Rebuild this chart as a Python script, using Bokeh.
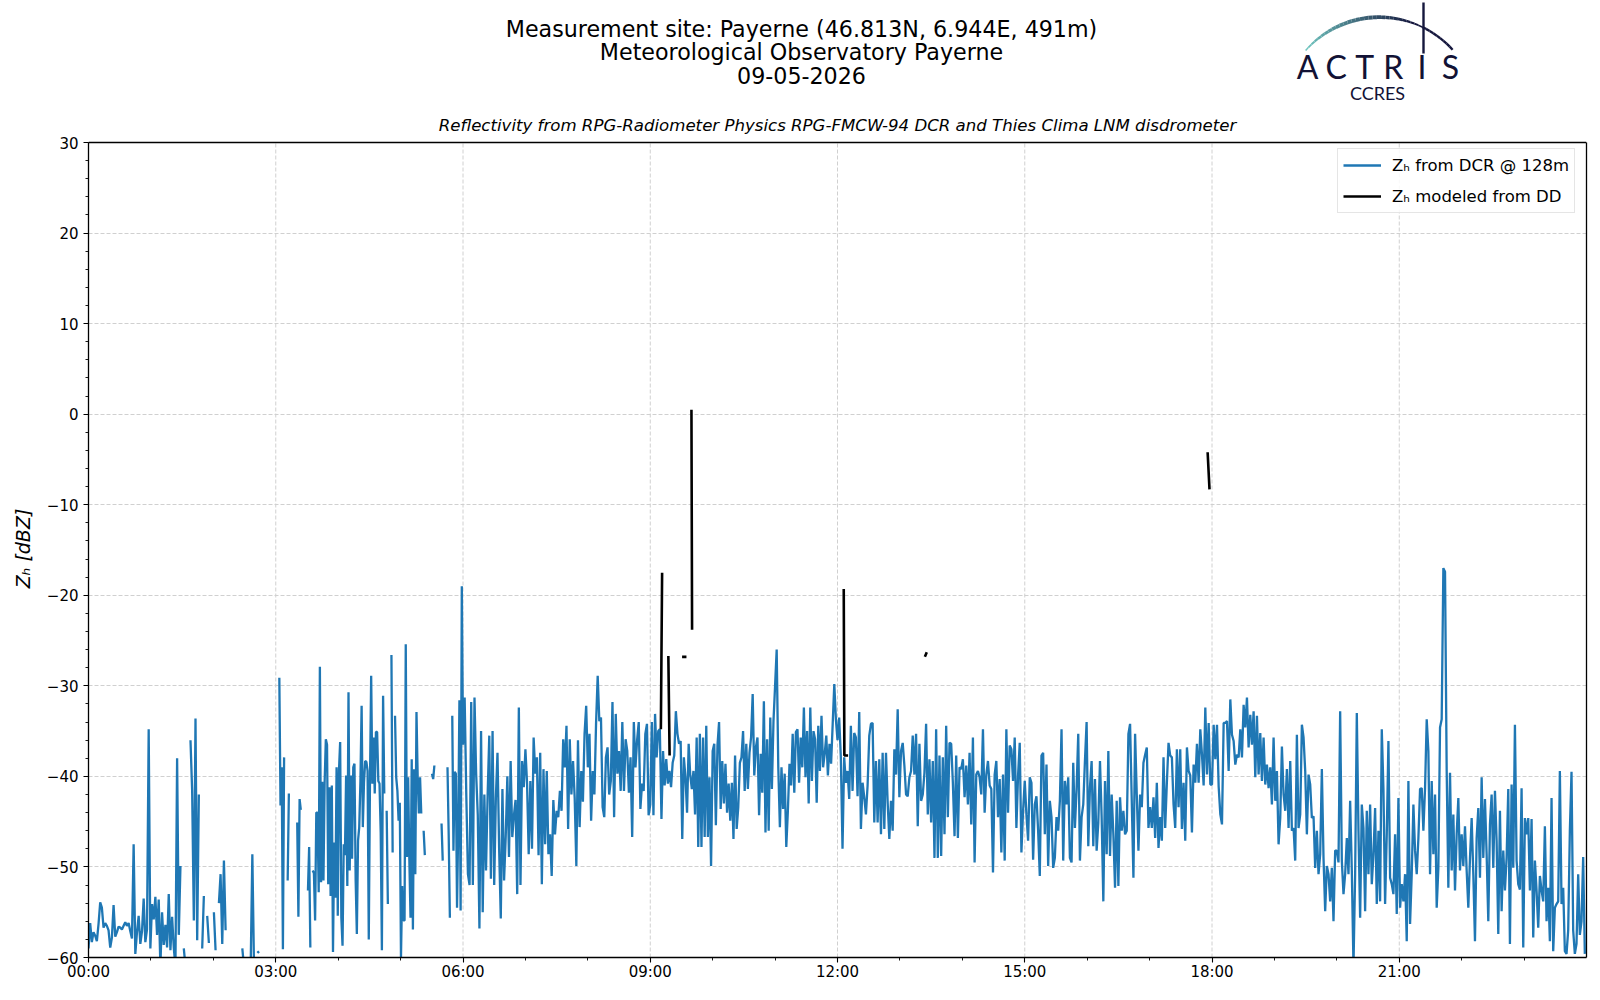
import numpy as np
from bokeh.plotting import figure
from bokeh.models import Range1d, FixedTicker, Label, Legend, LegendItem, LinearAxis, Span
from bokeh.embed import file_html
from bokeh.resources import INLINE

nan = float("nan")

# ---------------- data ----------------
# Z_H from DCR @ 128m, dBZ, per block of hours (samples evenly spread over each block)
zh_00_03 = [
    -59, -56.2, -58.3, -57.2, -57.6, -58.2, -56.3, -53.9, -54.5, -56.7,
    -56.2, -56.5, -57, -58.9, -57.8, -54.2, -57.7, -57.2, -56.6, -56.7,
    -56.9, -56.5, -56.1, -56.5, -56.2, -57.1, -57.9, -47.5, -59.6, -57.2,
    -55.4, -58.5, -57.1, -53.5, -58.3, -56.9, -34.8, -59, -54.1, -55.8,
    -53.3, -57.5, -53.6, -61, -55, -58.6, -56.4, -58.9, -53, -59.2,
    -55.5, -58.9, -61, -38, -57.5, -49.9, nan, -59, -61, nan,
    nan, -36, -41.6, -55.9, -33.6, -58.1, -42, nan, -59, -53.2,
    nan, -55.4, -58.4, nan, nan, -55, -59.2, nan, -54, -50.8,
    -58.5, -49.3, -57, nan, nan, nan, nan, nan, nan, nan,
    nan, nan, -59, -61, nan, nan, nan, -61, -48.6, -61,
    nan, -59.3, -59.5, nan, nan, nan, nan, nan, nan, nan,
    nan, nan,
]
zh_03_06 = [
    nan, nan, nan, -29.1, -43.2, -39, -59.1, -37.9, nan, nan,
    -51.5, -41.9, nan, nan, nan, nan, nan, nan, -45.1, -55.5,
    -42.5, -43.7, nan, nan, nan, nan, nan, -52.6, -47.8, -58.9,
    nan, -50.4, -50.7, -55.9, -44, -44, -52.8, -27.9, -51.7, -40.6,
    -51.5, -40.6, -35.9, -36.5, -51.9, -41.2, -53.2, -41, -59.4, -47.3,
    -53.4, -39, -55.4, -39.4, -36.2, -55.6, -58.7, -47.5, -48.7, -39.9,
    -52.1, -30.7, -50.4, -39.9, -49.1, -39, -38.6, -51.5, -57.4, -47.1,
    -45.6, -40.5, -32.2, -45.6, -40.6, -38.3, -38.4, -39.4, -58, -40.6,
    -28.9, -40.8, -35.7, -41.9, -35.1, -35.1, -40.5, -40.8, -46.2, -59.2,
    -31.1, -41.9, nan, -43.8, -54.1, nan, nan, -26.6, -48.4, nan,
    -33.3, -40.1, -41.6, -44.9, -42.9, -60, -52.1, -55.9, -55.9, -25.4,
    -48.9, -40.1, -49.1, -55.6, -38.1, -56.9, -39.2, -50.8, -32.9, -40.1,
    -44.1, -40.1, -44.1, nan, -46, -48.7, nan, nan, nan, nan,
    nan, -39.7, -40.3, -38.8, nan, nan, nan, nan, nan, -45.2,
    -49.3, nan, nan, nan, -39, -46.4, -55.6, nan, -33.3, -48.2,
    -39.5, -39.7, -54.5, -45.6, -31.6, -54.8, -19,
]
zh_06_09 = [
    -36.5, -31.3, -42, -50.8, -52, -31.8, -52, -31.3, -39.7, -44.3,
    -56.8, -35, -55, -42, -50.4, -42, -35.5, -51.3, -35, -52,
    -42.4, -37.4, -48, -55.7, -41.4, -51.5, -46.7, -40, -48.9, -38.3,
    -46.7, -44.3, -42.6, -53, -32.4, -52, -38.3, -41.2, -37, -40.8,
    -48.6, -40.5, -48, -35.7, -39.7, -37.9, -48.7, -37.4, -51.9, -39.2,
    -47.5, -39.4, -48.6, -46.4, -51, -42.6, -46.4, -43.8, -44.5, -41.6,
    -43.8, -35.9, -39, -34.4, -45.8, -35.9, -42, -38.3, -42.4, -49.9,
    -36, -45.6, -39.4, -42.8, -35.3, -32.2, -39, -35.3, -44.9, -39.4,
    -42, -34.2, -28.9, -33.9, -33.5, -43.4, -44.5, -37.9, -36.8, -42,
    -40.5, -31.8, -44.5, -33.1, -39.7, -37.2, -41.6, -34, -41.6, -35.9,
    -37.2, -41.8, -37.9, -46.7, -34, -39, -36, -34, -43.6, -40.8,
    -41.6, -35.3, -34.2, -44.3,
]
zh_09_12 = [
    -43.1, -34, -44.3, -33.1, -37.9, -35, -34.8, -44.7, -37.2, -41,
    -38.1, -40.8, -39.4, -41.2, -38.5, -37.7, -32.8, -35.3, -36.4, -36.1,
    -46.9, -37.9, -40.1, -44, -36.4, -39.9, -41.4, -39.4, -44.2, -35.7,
    -47.8, -35.3, -47.8, -35.7, -46.7, -34.4, -46.7, -40.1, -49.9, -37.2,
    -36.4, -45.4, -36.6, -34, -43.6, -38.3, -43, -38.6, -44, -40.8,
    -44.9, -40.7, -46.9, -37.7, -45.8, -43.4, -38.5, -37.9, -35, -41.6,
    -36.4, -41.4, -37.4, -35.7, -30.9, -39.9, -36.8, -35.7, -44.3, -37.5,
    -41.8, -31.7, -46.2, -35.9, -46, -33.5, -41.4, -33.9, -30, -26,
    -39, -45.6, -39, -43.6, -39.7, -47.8, -43.8, -38.6, -41, -35.3,
    -41.8, -35.1, -34.8, -40.7, -35.7, -39, -32.4, -40.1, -35, -43,
    -32.4, -40.5, -35, -35.9, -42.9, -34.4, -39.4, -33.3, -39, -37.5,
    -35.5, -39.9, -36.4, -38.6, -34.2, -29.8, -33.7,
]
zh_12_18 = [
    -36.0, -33.5, -37.9, -48.0, -37.9, -40.7, -39.4, -42.5, -34.4, -41.6,
    -35.2, -35.7, -42.2, -32.9, -45.8, -40.7, -42.3, -44.2, -41.0, -35.5,
    -34.2, -34.1, -45.1, -38.3, -45.1, -38.1, -46.4, -37.4, -45.8, -37.4,
    -42.9, -46.9, -42.7, -46.0, -37.0, -39.8, -32.6, -42.3, -37.2, -36.3,
    -38.8, -42.0, -42.2, -40.1, -39.4, -35.5, -39.8, -35.3, -45.5, -36.4,
    -42.7, -42.0, -39.6, -34.2, -44.2, -38.1, -45.1, -38.3, -49.0, -34.8,
    -49.0, -37.7, -48.8, -37.9, -46.4, -34.4, -44.5, -36.3, -36.4, -40.7,
    -46.6, -37.7, -46.8, -39.0, -39.2, -38.1, -42.3, -38.8, -43.1, -37.4,
    -45.3, -35.7, -49.5, -39.8, -39.4, -40.1, -42.0, -34.8, -44.0, -39.8,
    -38.3, -41.0, -41.4, -50.6, -39.8, -38.3, -44.5, -40.3, -48.4, -39.8,
    -49.3, -34.8, -44.0, -36.6, -37.0, -40.5, -35.7, -45.7, -39.9, -36.3,
    -48.4, -43.8, -40.5, -44.2, -47.1, -40.1, -40.7, -49.2, -43.1, -42.2,
    -46.0, -51.0, -37.7, -37.4, -46.4, -38.7, -49.9, -42.7, -44.5, -50.1,
    -49.0, -44.5, -46.0, -42.7, -34.8, -49.3, -40.5, -43.1, -40.1, -49.0,
    -49.5, -38.5, -45.7, -41.4, -35.3, -49.3, -44.5, -43.1, -38.3, -34.0,
    -47.7, -41.2, -38.3, -47.7, -40.3, -48.2, -45.1, -38.3, -44.5, -53.8,
    -40.5, -48.6, -37.2, -48.8, -42.0, -46.4, -52.3, -42.7, -52.1, -42.3,
    -46.0, -43.8, -46.4, -46.0, -35.3, -34.2, -42.7, -51.2, -35.3, -42.0,
    -48.2, -42.0, -43.4, -38.5, -37.6, -36.8, -45.7, -43.4, -45.7, -42.3,
    -46.8, -40.7, -47.9, -44.5, -47.1, -37.9, -45.7, -40.7, -36.3, -37.7,
    -37.9, -43.1, -45.7, -37.0, -43.4, -37.0, -45.8, -40.7, -47.1, -36.8,
    -39.4, -39.9, -46.2, -38.7, -40.7, -36.4, -40.7, -34.8, -37.6, -41.0,
    -32.4, -39.8, -34.1, -40.9,
]
zh_18_24 = [
    -40.9, -34.3, -38.1, -34.3, -41.1, -44.2, -45.3, -34.1, -34.1, -33.9,
    -39.4, -31.5, -35.4, -36.1, -38.7, -37.6, -37.9, -34.8, -37.9, -32.1,
    -34.6, -31.3, -36.8, -33.2, -36.5, -32.8, -40.1, -33.3, -39.8, -35.2,
    -40.5, -35.7, -40.9, -38.7, -41.3, -39.0, -43.1, -35.7, -42.7, -39.4,
    -47.5, -44.6, -36.7, -42.0, -43.8, -39.2, -45.7, -38.3, -46.0, -45.7,
    -49.3, -35.4, -45.7, -44.2, -34.3, -35.7, -39.4, -46.4, -39.8, -40.9,
    -44.6, -44.4, -50.1, -46.0, -50.8, -48.6, -39.2, -49.0, -54.9, -49.9,
    -50.8, -53.8, -50.1, -56.0, -48.2, -48.2, -49.5, -32.8, -49.3, -53.0,
    -50.8, -46.8, -50.8, -42.7, -50.4, -61.0, -50.8, -33.0, -46.0, -55.6,
    -43.1, -45.7, -54.9, -43.8, -50.8, -43.1, -51.9, -48.6, -43.5, -54.1,
    -46.0, -53.8, -34.8, -41.4, -54.1, -46.4, -36.1, -51.2, -51.9, -53.0,
    -46.4, -55.2, -42.4, -54.5, -51.9, -53.8, -50.8, -58.2, -40.5, -56.3,
    -50.8, -43.1, -48.2, -50.8, -46.8, -41.4, -41.3, -46.0, -41.3, -33.7,
    -37.2, -50.8, -40.5, -48.6, -42.0, -54.5, -50.1, -34.6, -33.7, -17.0,
    -17.4, -39.4, -52.3, -39.6, -50.4, -44.2, -52.6, -46.4, -42.4, -50.4,
    -46.4, -49.9, -45.5, -50.4, -54.5, -49.0, -44.6, -50.8, -58.2, -46.8,
    -43.5, -51.2, -40.1, -49.0, -42.5, -48.6, -56.0, -45.3, -42.0, -50.1,
    -41.6, -47.1, -57.4, -43.8, -54.9, -48.2, -52.6, -49.0, -41.4, -58.5,
    -40.9, -50.1, -34.3, -49.3, -51.9, -52.5, -41.3, -58.9, -44.6, -46.4,
    -44.6, -52.6, -44.7, -57.8, -49.3, -52.6, -56.7, -51.0, -52.6, -53.8,
    -45.5, -56.0, -52.3, -58.2, -42.4, -59.3, -54.5, -54.1, -53.8, -39.4,
    -54.1, -52.3, -59.3, -59.6, -57.0, -46.0, -39.5, -57.0, -59.6, -58.5,
    -50.8, -57.5, -56.0, -48.9, -59.6,
]

# Z_H modeled from the disdrometer (hours, dBZ); nan separates the short pieces
dd_hours = [9.17, 9.19, nan, 9.29, 9.31, nan, 9.51, 9.58, nan, 9.66, 9.67, nan,
            12.10, 12.11, 12.17, nan, 13.40, 13.43, nan, 17.93, 17.96]
dd_zh = [-34.8, -17.5, nan, -26.7, -37.7, nan, -26.8, -26.8, nan, 0.5, -23.8, nan,
         -19.3, -37.7, -37.7, nan, -26.8, -26.3, nan, -4.2, -8.3]

x_tick_hours = [0, 3, 6, 9, 12, 15, 18, 21]
x_tick_labels = ["00:00", "03:00", "06:00", "09:00", "12:00", "15:00", "18:00", "21:00"]
x_minor_hours = [h for h in range(1, 24) if h % 3 != 0]
y_ticks = [-60, -50, -40, -30, -20, -10, 0, 10, 20, 30]
y_minor = list(range(-60, 31, 2))

title_lines = ["Measurement site: Payerne (46.813N, 6.944E, 491m)",
               "Meteorological Observatory Payerne",
               "09-05-2026"]
subtitle = "Reflectivity from RPG-Radiometer Physics RPG-FMCW-94 DCR and Thies Clima LNM disdrometer"
y_label = "Z\u2095 [dBZ]"


def block_times(start, length_h, values):
    n = len(values)
    return start + np.arange(n) * length_h / n


blocks = [(0, 3, zh_00_03), (3, 3, zh_03_06), (6, 3, zh_06_09), (9, 3, zh_09_12),
          (12, 6, zh_12_18), (18, 6, zh_18_24)]
t_all = np.concatenate([block_times(s, l, v) for s, l, v in blocks])
z_all = np.concatenate([np.array(v, dtype=float) for s, l, v in blocks])

# ---------------- layout geometry (canvas pixels) ----------------
FONT = "DejaVu Sans"
W, H = 1592, 992
F_LEFT, F_RIGHT, F_TOP, F_BOTTOM = 88, 1586, 142, 957   # axes box
Y_MIN, Y_MAX = -60, 30
X_MIN, X_MAX = 0, 24
YPX = (F_BOTTOM - F_TOP) / (Y_MAX - Y_MIN)
XPX = (F_RIGHT - F_LEFT) / (X_MAX - X_MIN)
Y_TOP = Y_MAX + F_TOP / YPX        # frame reaches up to the canvas top
BASE_FIX = 0.36                    # label baseline correction, in em
LABEL_PAD = "\u00a0" * 23          # keeps the y label centred on the axes box, not the frame


def px(x_c):
    return X_MIN + (x_c - F_LEFT) / XPX


def py(y_c):
    return Y_MAX + (F_TOP - y_c) / YPX


def ly(y_c, fs):
    return py(y_c - BASE_FIX * fs)


p = figure(width=W, height=H, x_range=Range1d(X_MIN, X_MAX), y_range=Range1d(Y_MIN, Y_TOP),
           output_backend="svg", toolbar_location=None,
           min_border_left=F_LEFT, min_border_right=W - F_RIGHT,
           min_border_top=0, min_border_bottom=H - F_BOTTOM)
p.outline_line_color = None
p.background_fill_color = "white"
p.border_fill_color = "white"

# grid
p.xgrid.visible = False
p.segment(x0=x_tick_hours, y0=[Y_MIN] * len(x_tick_hours), x1=x_tick_hours, y1=[Y_MAX] * len(x_tick_hours),
          line_color="#d0d0d0", line_dash="4 2", line_width=1, level="underlay")
p.ygrid.grid_line_color = "#d0d0d0"
p.ygrid.grid_line_dash = "4 2"
p.ygrid.grid_line_width = 1

# data
r_dcr = p.line(t_all, z_all, line_color="#1f77b4", line_width=2.3)
r_dd = p.line(dd_hours, dd_zh, line_color="black", line_width=2.6)

# axes
p.xaxis.ticker = FixedTicker(ticks=x_tick_hours, minor_ticks=x_minor_hours)
p.xaxis.major_label_overrides = dict(zip(x_tick_hours, x_tick_labels))
p.yaxis.ticker = FixedTicker(ticks=y_ticks, minor_ticks=y_minor)
p.yaxis.major_label_overrides = {v: str(v).replace("-", "\u2212") for v in y_ticks}
p.yaxis.bounds = (Y_MIN, Y_MAX)

for ax in (p.xaxis[0], p.yaxis[0]):
    ax.axis_line_color = "black"
    ax.axis_line_width = 1.3
    ax.major_tick_line_color = "black"
    ax.major_tick_line_width = 1.1
    ax.minor_tick_line_color = "black"
    ax.minor_tick_line_width = 0.9
    ax.major_tick_out = 5
    ax.major_tick_in = 0
    ax.minor_tick_out = 3
    ax.minor_tick_in = 0
    ax.major_label_text_font = FONT
    ax.major_label_text_font_size = "15px"
    ax.major_label_text_color = "black"
p.yaxis.major_label_standoff = 5
p.xaxis.major_label_standoff = 0

p.yaxis.axis_label = y_label + LABEL_PAD
p.yaxis.axis_label_text_font = FONT
p.yaxis.axis_label_text_font_size = "19px"
p.yaxis.axis_label_text_font_style = "italic"
p.yaxis.axis_label_text_color = "black"
p.yaxis.axis_label_standoff = 10

right = LinearAxis(bounds=(Y_MIN, Y_MAX), ticker=FixedTicker(ticks=[]), axis_line_color="black",
                   axis_line_width=1.3, major_tick_out=0, minor_tick_out=0, major_tick_in=0, minor_tick_in=0)
p.add_layout(right, "right")
p.add_layout(Span(location=Y_MAX, dimension="width", line_color="black", line_width=1.3))

# header texts
for txt, yb in zip(title_lines, [36, 59, 82.5]):
    p.add_layout(Label(x=px(801), y=ly(yb, 22.2), text=txt, text_align="center", text_baseline="alphabetic",
                       text_font=FONT, text_font_size="22.2px", text_color="black"))
p.add_layout(Label(x=px(837), y=ly(131, 16.6), text=subtitle, text_align="center", text_baseline="alphabetic",
                   text_font=FONT, text_font_size="16.6px", text_font_style="italic", text_color="black"))

# ACTRIS logo
cx, cy, R = 1378.9, 115.2, 98.5
angs = np.linspace(np.radians(138.5), np.radians(42.0), 40)
ax_ = cx + R * np.cos(angs)
ay_ = cy - R * np.sin(angs)
c0 = np.array([112, 198, 192])
c1 = np.array([21, 23, 61])
xs, ys, cols, wids = [], [], [], []
for i in range(len(angs) - 1):
    f = i / (len(angs) - 2)
    g = min(1.0, f * 1.4)
    c = (c0 * (1 - g) + c1 * g).astype(int)
    xs.append([px(ax_[i]), px(ax_[i + 1])])
    ys.append([py(ay_[i]), py(ay_[i + 1])])
    cols.append("#%02x%02x%02x" % tuple(c))
    wids.append(1.5 + 2.5 * np.sin(np.pi * min(1.0, f * 1.3)) if f < 0.77 else 2.4)
p.multi_line(xs, ys, line_color=cols, line_width=wids)
p.segment(x0=[px(1423)], y0=[py(2)], x1=[px(1423)], y1=[py(53)], line_color="#15173d", line_width=2.4)
for lx, ch in zip([1307, 1335.6, 1364.2, 1392.8, 1421.4, 1450], "ACTRIS"):
    p.add_layout(Label(x=px(lx), y=ly(78, 32), text=ch, text_align="center", text_baseline="alphabetic",
                       text_font="Lato", text_font_size="32px", text_color="#121235"))
p.add_layout(Label(x=px(1377), y=ly(99, 18), text="CCRES", text_align="center", text_baseline="alphabetic",
                   text_font="Lato", text_font_size="18px", text_color="#121235"))

# legend
legend = Legend(items=[LegendItem(label="Z\u2095 from DCR @ 128m", renderers=[r_dcr]),
                       LegendItem(label="Z\u2095 modeled from DD", renderers=[r_dd])],
                location=(1337 - F_LEFT, F_BOTTOM - 213), padding=5, spacing=9,
                glyph_width=38, glyph_height=22, label_height=22, label_standoff=11,
                label_text_font=FONT, label_text_font_size="16.5px", label_text_color="black",
                border_line_color="#cccccc", border_line_width=1,
                background_fill_color="white", background_fill_alpha=0.85)
p.add_layout(legend)

open("out.html", "w").write(file_html(p, INLINE))
